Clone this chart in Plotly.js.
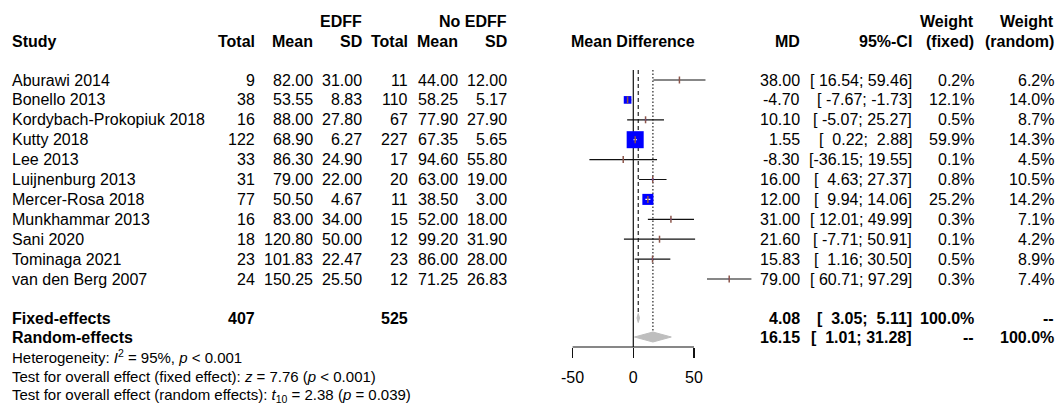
<!DOCTYPE html>
<html>
<head>
<meta charset="utf-8">
<script src="https://cdn.plot.ly/plotly-3.0.1.min.js"></script>
<style>html,body{margin:0;padding:0;background:#fff;}#chart{width:1059px;height:405px;}</style>
</head>
<body>
<div id="chart"></div>
<script>
// ---------------- data ----------------
const studies = ["Aburawi 2014","Bonello 2013","Kordybach-Prokopiuk 2018","Kutty 2018","Lee 2013","Luijnenburg 2013","Mercer-Rosa 2018","Munkhammar 2013","Sani 2020","Tominaga 2021","van den Berg 2007"];
const eTotal = [9,38,16,122,33,31,77,16,18,23,24];
const eMean  = [82.00,53.55,88.00,68.90,86.30,79.00,50.50,83.00,120.80,101.83,150.25];
const eSD    = [31.00,8.83,27.80,6.27,24.90,22.00,4.67,34.00,50.00,22.47,25.50];
const cTotal = [11,110,67,227,17,20,11,15,12,23,12];
const cMean  = [44.00,58.25,77.90,67.35,94.60,63.00,38.50,52.00,99.20,86.00,71.25];
const cSD    = [12.00,5.17,27.90,5.65,55.80,19.00,3.00,18.00,31.90,28.00,26.83];
const md     = [38.00,-4.70,10.10,1.55,-8.30,16.00,12.00,31.00,21.60,15.83,79.00];
const lower  = [16.54,-7.67,-5.07,0.22,-36.15,4.63,9.94,12.01,-7.71,1.16,60.71];
const upper  = [59.46,-1.73,25.27,2.88,19.55,27.37,14.06,49.99,50.91,30.50,97.29];
const wFixed = [0.2,12.1,0.5,59.9,0.1,0.8,25.2,0.3,0.1,0.5,0.3];
const wRandom= [6.2,14.0,8.7,14.3,4.5,10.5,14.2,7.1,4.2,8.9,7.4];

const pooledLabels = ["Fixed-effects","Random-effects"];
const pooledMD     = [4.08,16.15];
const pooledLower  = [3.05,1.01];
const pooledUpper  = [5.11,31.28];
const pooledWFixed = ["100.0%","--"];
const pooledWRandom= ["--","100.0%"];
const totalE = 407, totalC = 525;

const xTicks = [-50,0,50];
const xTickText = ["-50","0","50"];

// ---------------- layout helpers ----------------
const W = 1059, H = 405;
const FONT = "Liberation Sans, Arial, sans-serif";
const rowY = i => 80 + i*19.9;
const fixedY = 318, randomY = 337;
const pooledY = [fixedY, randomY];
const scalePx = 1.214; // px per MD unit (for square size in data units)

const annotations = [];
function ann(text, x, y, anchor, opts) {
  opts = opts || {};
  annotations.push({
    text: opts.bold ? "<b>" + text + "</b>" : text,
    x: x / W, xref: "paper",
    y: y, yref: "y",
    xanchor: anchor, yanchor: "middle",
    showarrow: false, borderpad: 0, borderwidth: 0,
    font: {family: FONT, size: opts.size || 16, color: "#000"}
  });
}
const NB = "\u00a0";
function padL(s, n) { while (s.length < n) s = NB + s; return s; }
function ci(lo, hi) { return "[" + padL(lo.toFixed(2), 6) + ";" + NB + padL(hi.toFixed(2), 5) + "]"; }

// column right edges
const C = {study: 12, eT: 255, eM: 313, eS: 362, cT: 408, cM: 458, cS: 507, md: 800, ci: 912, wf: 974, wr: 1054, plotC: 633};

// headers
const h1 = 21, h2 = 41;
ann("EDFF", C.eS, h1, "right", {bold: true});
ann("No EDFF", C.cS, h1, "right", {bold: true});
ann("Weight", C.wf, h1, "right", {bold: true});
ann("Weight", C.wr, h1, "right", {bold: true});
ann("Study", C.study, h2, "left", {bold: true});
ann("Total", C.eT, h2, "right", {bold: true});
ann("Mean", C.eM, h2, "right", {bold: true});
ann("SD", C.eS, h2, "right", {bold: true});
ann("Total", C.cT, h2, "right", {bold: true});
ann("Mean", C.cM, h2, "right", {bold: true});
ann("SD", C.cS, h2, "right", {bold: true});
ann("Mean Difference", C.plotC, h2, "center", {bold: true});
ann("MD", C.md, h2, "right", {bold: true});
ann("95%-CI", C.ci, h2, "right", {bold: true});
ann("(fixed)", C.wf, h2, "right", {bold: true});
ann("(random)", C.wr, h2, "right", {bold: true});

// study rows
studies.forEach((s, i) => {
  const y = rowY(i);
  ann(s, C.study, y, "left");
  ann(String(eTotal[i]), C.eT, y, "right");
  ann(eMean[i].toFixed(2), C.eM, y, "right");
  ann(eSD[i].toFixed(2), C.eS, y, "right");
  ann(String(cTotal[i]), C.cT, y, "right");
  ann(cMean[i].toFixed(2), C.cM, y, "right");
  ann(cSD[i].toFixed(2), C.cS, y, "right");
  ann(md[i].toFixed(2), C.md, y, "right");
  ann(ci(lower[i], upper[i]), C.ci, y, "right");
  ann(wFixed[i].toFixed(1) + "%", C.wf, y, "right");
  ann(wRandom[i].toFixed(1) + "%", C.wr, y, "right");
});

// pooled rows
pooledLabels.forEach((lab, k) => {
  const y = pooledY[k];
  ann(lab, C.study, y, "left", {bold: true});
  if (k === 0) {
    ann(String(totalE), C.eT, y, "right", {bold: true});
    ann(String(totalC), C.cT, y, "right", {bold: true});
  }
  ann(pooledMD[k].toFixed(2), C.md, y, "right", {bold: true});
  ann(ci(pooledLower[k], pooledUpper[k]), C.ci, y, "right", {bold: true});
  ann(pooledWFixed[k], C.wf, y, "right", {bold: true});
  ann(pooledWRandom[k], C.wr, y, "right", {bold: true});
});

// footer
ann("Heterogeneity: <i>I</i><sup>2</sup> = 95%, <i>p</i> &lt; 0.001", C.study, 356, "left", {size: 15});
ann("Test for overall effect (fixed effect): <i>z</i> = 7.76 (<i>p</i> &lt; 0.001)", C.study, 376, "left", {size: 15});
ann("Test for overall effect (random effects): <i>t</i><sub>10</sub> = 2.38 (<i>p</i> = 0.039)", C.study, 395, "left", {size: 15});

// ---------------- traces ----------------
const ciX = [], ciY = [];
studies.forEach((s, i) => { ciX.push(lower[i], upper[i], null); ciY.push(rowY(i), rowY(i), null); });
const ciTrace = {type: "scatter", mode: "lines", x: ciX, y: ciY, line: {color: "#111", width: 1.2}, hoverinfo: "skip", showlegend: false, cliponaxis: false};

const sqSize = wFixed.map(w => 2.2 * Math.sqrt(w));
const sqTrace = {type: "scatter", mode: "markers", x: md, y: studies.map((s, i) => rowY(i)),
  marker: {symbol: "square", size: sqSize, color: "#0000FF", opacity: 1, line: {width: 0}}, hoverinfo: "skip", showlegend: false, cliponaxis: false};

// inside-square segments (white when the square is big)
const inX = [], inY = [];
studies.forEach((s, i) => {
  if (sqSize[i] >= 10) {
    const hw = sqSize[i] / 2 / scalePx;
    inX.push(Math.max(lower[i], md[i] - hw), Math.min(upper[i], md[i] + hw), null);
    inY.push(rowY(i), rowY(i), null);
  }
});
const inTrace = {type: "scatter", mode: "lines", x: inX, y: inY, line: {color: "#fff", width: 1.2}, hoverinfo: "skip", showlegend: false, cliponaxis: false};

const tickTrace = {type: "scatter", mode: "markers", x: md, y: studies.map((s, i) => rowY(i)),
  marker: {symbol: "line-ns-open", size: 5, opacity: 1, line: {width: 1.5, color: sqSize.map(s => s >= 10 ? "#fff" : "#000")}},
  hoverinfo: "skip", showlegend: false, cliponaxis: false};

const diamondTraces = pooledMD.map((m, k) => {
  const y = pooledY[k], hh = k === 0 ? 4.5 : 5;
  return {type: "scatter", mode: "lines", fill: "toself", fillcolor: "#BEBEBE",
    x: [pooledLower[k], m, pooledUpper[k], m, pooledLower[k]],
    y: [y, y - hh, y, y + hh, y],
    line: {color: "#BEBEBE", width: 1}, hoverinfo: "skip", showlegend: false, cliponaxis: false};
});

// ---------------- shapes ----------------
const axisY = 347;
const shapes = [
  {type: "line", xref: "x", yref: "y", x0: 0, x1: 0, y0: 70, y1: axisY, line: {color: "#111", width: 1.2}, layer: "below"},
  {type: "line", xref: "x", yref: "y", x0: pooledMD[0], x1: pooledMD[0], y0: 70, y1: fixedY - 4.5, line: {color: "#222", width: 1.2, dash: "4px,3px"}, layer: "below"},
  {type: "line", xref: "x", yref: "y", x0: pooledMD[1], x1: pooledMD[1], y0: 70, y1: randomY - 5, line: {color: "#222", width: 1.2, dash: "1.5px,2px"}, layer: "below"},
  {type: "line", xref: "x", yref: "y", x0: xTicks[0], x1: xTicks[xTicks.length - 1], y0: axisY, y1: axisY, line: {color: "#111", width: 1.2}}
];

// x axis: 0 at px 633.3, scale 1.214 px/unit
const xr = [-60, 100];
const x0px = 633.3 + xr[0] * scalePx, x1px = 633.3 + xr[1] * scalePx;

const layout = {
  width: W, height: H, autosize: false,
  margin: {l: 0, r: 0, t: 0, b: 0, pad: 0},
  paper_bgcolor: "#fff", plot_bgcolor: "rgba(0,0,0,0)",
  showlegend: false,
  xaxis: {domain: [x0px / W, x1px / W], range: xr, anchor: "free", position: 1 - axisY / H,
    showgrid: false, zeroline: false, showline: false,
    ticks: "outside", ticklen: 10, tickwidth: 1.2, tickcolor: "#111",
    tickvals: xTicks, ticktext: xTickText, ticklabelstandoff: 6,
    tickfont: {family: FONT, size: 16, color: "#000"}, fixedrange: true},
  yaxis: {domain: [0, 1], range: [H, 0], visible: false, fixedrange: true},
  annotations: annotations,
  shapes: shapes
};

Plotly.newPlot("chart", [ciTrace, ...diamondTraces, sqTrace, inTrace, tickTrace], layout, {staticPlot: true, displayModeBar: false});
</script>
</body>
</html>
